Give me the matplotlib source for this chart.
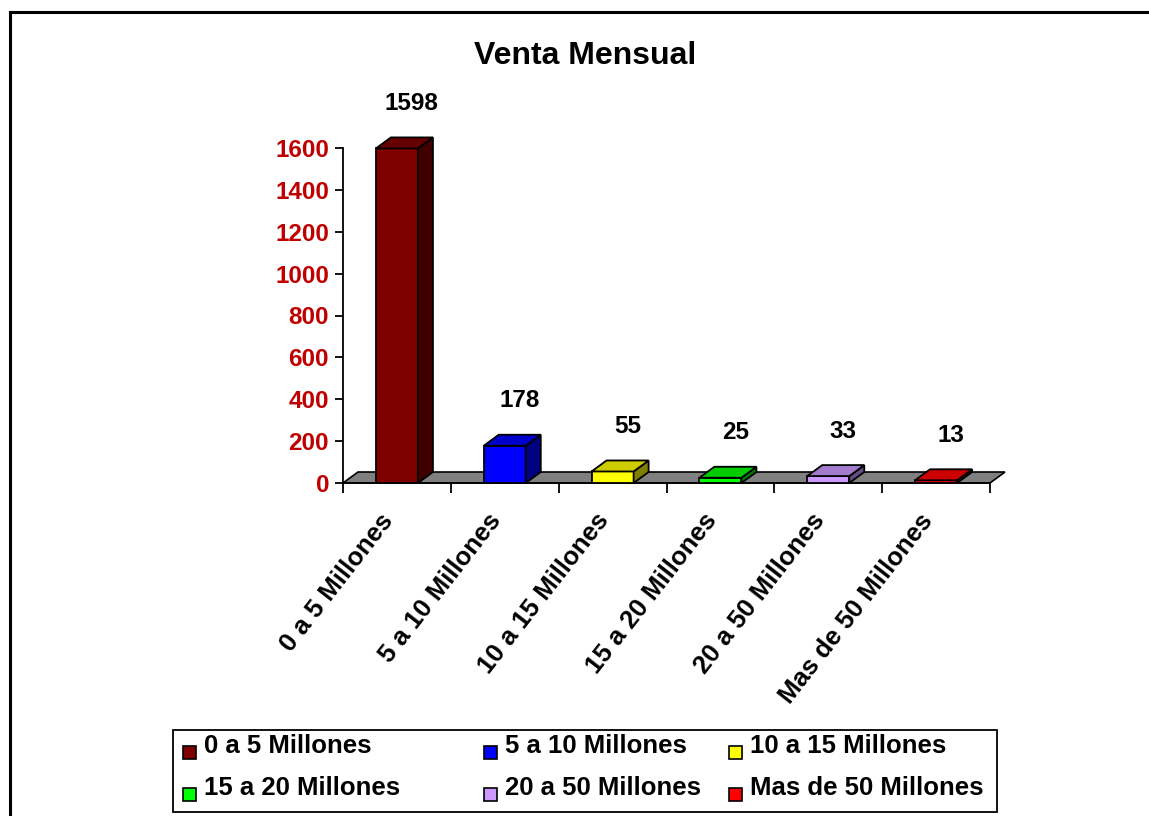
import matplotlib
matplotlib.use("Agg")
import matplotlib.pyplot as plt
from matplotlib.patches import Polygon, Rectangle
from matplotlib.lines import Line2D
from matplotlib.transforms import ScaledTranslation

plt.rcParams['font.family'] = ['Liberation Sans', 'DejaVu Sans']
plt.rcParams['font.weight'] = 'bold'

# ---- data ----
categories = ["0 a 5 Millones", "5 a 10 Millones", "10 a 15 Millones",
              "15 a 20 Millones", "20 a 50 Millones", "Mas de 50 Millones"]
values = [1598, 178, 55, 25, 33, 13]
colors = ["#800000", "#0000FF", "#FFFF00", "#00FF00", "#CC99FF", "#FF0000"]
y_ticks = [0, 200, 400, 600, 800, 1000, 1200, 1400, 1600]
title = "Venta Mensual"

W, H, DPI = 1149, 816, 100
fig = plt.figure(figsize=(W / DPI, H / DPI), dpi=DPI)

def px_rect(l, t, r, b):
    return [l / W, 1 - b / H, (r - l) / W, (b - t) / H]

ax = fig.add_axes(px_rect(343, 148, 990, 483))
n = len(categories)
ax.set_xlim(0, n)
ax.set_ylim(0, 1600)

# depth offsets (pixels -> data units)
dx_px, dy_px = 15, 11
dx = dx_px * n / 647.0
dyv = dy_px * 1600 / 335.0

def shade(c, f):
    r, g, b = matplotlib.colors.to_rgb(c)
    return (r * f, g * f, b * f)

# floor
floor = Polygon([(0, 0), (n, 0), (n + dx, dyv), (dx, dyv)], closed=True,
                facecolor="#808080", edgecolor="black", lw=1.2, clip_on=False, zorder=1)
ax.add_patch(floor)

bw = 0.39
centers = [i + 0.5 for i in range(n)]
bars = ax.bar(centers, values, width=bw, color=colors, edgecolor="black",
              linewidth=1.3, zorder=3, clip_on=False)
for b, v, c in zip(bars, values, colors):
    x0 = b.get_x()
    x1 = x0 + b.get_width()
    top = Polygon([(x0, v), (x1, v), (x1 + dx, v + dyv), (x0 + dx, v + dyv)], closed=True,
                  facecolor=shade(c, 0.8), edgecolor="black", lw=1.3, clip_on=False, zorder=3)
    side = Polygon([(x1, 0), (x1 + dx, dyv), (x1 + dx, v + dyv), (x1, v)], closed=True,
                   facecolor=shade(c, 0.5), edgecolor="black", lw=1.3, clip_on=False, zorder=3)
    ax.add_patch(side)
    ax.add_patch(top)
    ax.annotate(str(v), xy=(b.get_x() + bw / 2 + dx, v + dyv), xytext=(0, 34),
                textcoords="offset pixels", ha="center", va="center",
                fontsize=17.5, fontweight="bold", color="black", annotation_clip=False)

# spines
for s in ["top", "right"]:
    ax.spines[s].set_visible(False)
ax.spines["left"].set_linewidth(1.3)
ax.spines["bottom"].set_linewidth(1.3)
ax.patch.set_visible(False)

ax.set_yticks(y_ticks)
ax.set_yticklabels([str(t) for t in y_ticks], color="#C00000", fontsize=17.5, fontweight="bold")
ax.tick_params(axis="y", direction="out", length=6, width=1.3, pad=4)

ax.set_xticks(range(n + 1))
ax.set_xticklabels([])
ax.tick_params(axis="x", which="major", direction="out", length=7, width=1.3)
ax.set_xticks(centers, minor=True)
ax.set_xticklabels(categories, minor=True, rotation=52, ha="right", va="center",
                   rotation_mode="anchor", fontsize=18.5, fontweight="bold")
ax.tick_params(axis="x", which="minor", length=0, pad=24)
for lab in ax.get_xticklabels(minor=True):
    lab.set_transform(lab.get_transform() + ScaledTranslation(-8 / DPI, 0, fig.dpi_scale_trans))

# title
fig.text(585 / W, 1 - 56 / H, title, ha="center", va="center", fontsize=23, fontweight="bold")

# outer border (left and top)
fig.add_artist(Line2D([10 / W, 10 / W], [0, 1 - 12 / H], color="black", lw=2.2))
fig.add_artist(Line2D([10 / W, 1], [1 - 12 / H, 1 - 12 / H], color="black", lw=2.2))

# legend box
lx0, ly0, lx1, ly1 = 173, 730, 997, 812
fig.add_artist(Rectangle((lx0 / W, 1 - ly1 / H), (lx1 - lx0) / W, (ly1 - ly0) / H,
                         transform=fig.transFigure, facecolor="white", edgecolor="black", lw=1.3))
col_marker_x = [183, 484, 729]
row_y = [752, 794]
msz = 13
for i, (cat, c) in enumerate(zip(categories, colors)):
    r, k = divmod(i, 3)
    mx = col_marker_x[k]
    my = row_y[r]
    fig.add_artist(Rectangle((mx / W, 1 - (my + 7) / H), msz / W, msz / H,
                             transform=fig.transFigure, facecolor=c, edgecolor="black", lw=1.2))
    fig.text((mx + 21) / W, 1 - (my - 6) / H, cat, ha="left", va="center",
             fontsize=18.5, fontweight="bold")

fig.savefig("out.png", dpi=DPI)
